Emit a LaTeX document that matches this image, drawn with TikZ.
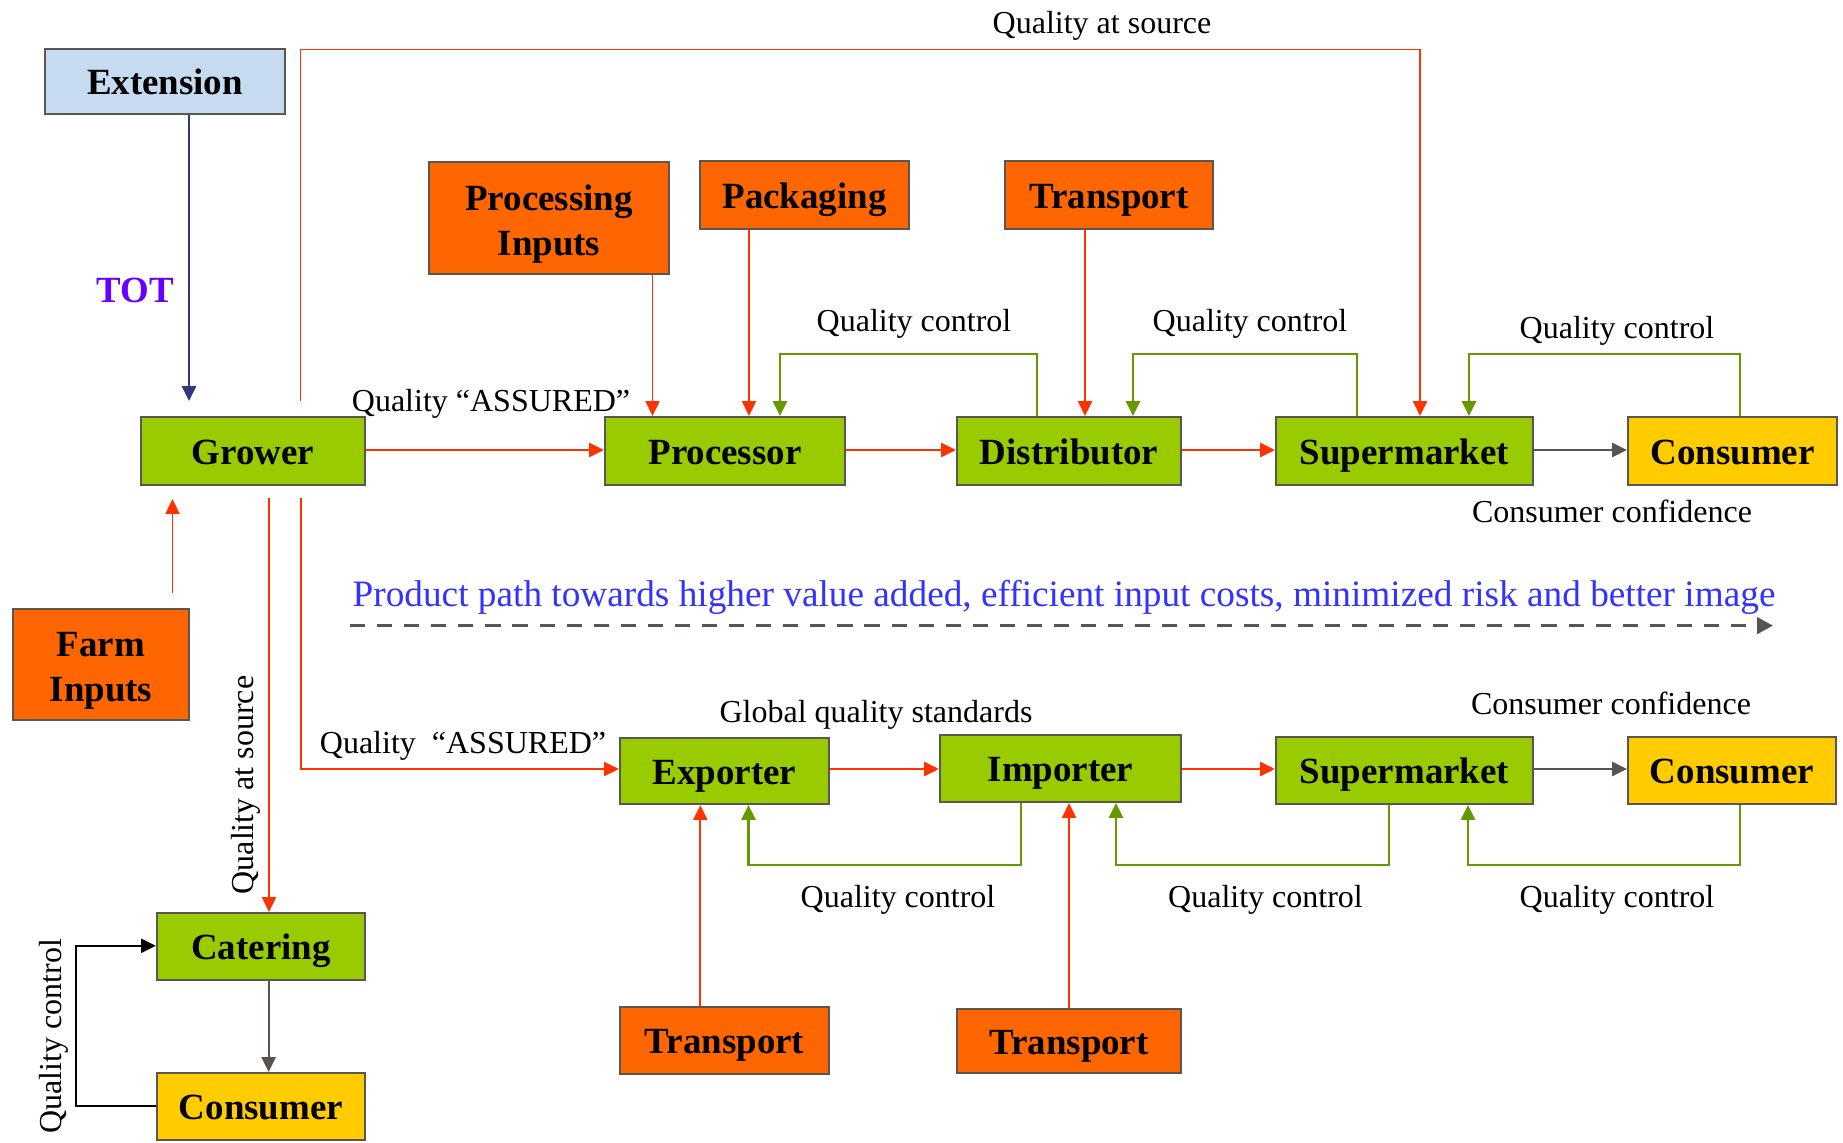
\documentclass[tikz,border=0pt]{standalone}
\usepackage{fontspec}
\setmainfont{Liberation Serif}
\usetikzlibrary{arrows.meta}
\definecolor{boxgreen}{HTML}{99CC00}
\definecolor{boxorange}{HTML}{FF6600}
\definecolor{boxyellow}{HTML}{FFCC00}
\definecolor{boxblue}{HTML}{C6DBEF}
\definecolor{boxborder}{HTML}{5A5652}
\definecolor{arrred}{HTML}{FF3300}
\definecolor{arrgreen}{HTML}{669900}
\definecolor{arrgray}{HTML}{5A5450}
\definecolor{arrnavy}{HTML}{2E3A7C}
\definecolor{totpurple}{HTML}{6600FF}
\definecolor{pathblue}{HTML}{3333FF}
\tikzset{
  box/.style={draw=boxborder, line width=0.6pt, inner sep=0pt, align=center,
    font=\bfseries\fontsize{10.5}{12.8}\selectfont},
  onebox/.style={text height=0.9em, text depth=0.14em},
  sz/.style 2 args={minimum width=#1cm, minimum height=#2cm},
  gbox/.style={box, onebox, fill=boxgreen},
  obox/.style={box, onebox, fill=boxorange},
  o2box/.style={box, fill=boxorange},
  ybox/.style={box, onebox, fill=boxyellow},
  bbox/.style={box, onebox, fill=boxblue},
  lbl/.style={inner sep=0pt, font=\fontsize{9.1}{11}\selectfont},
  tipa/.style={-{Triangle[length=4.2pt,width=4pt]}},
  redln/.style={draw=arrred, line width=0.5pt, tipa},
  redmain/.style={draw=arrred, line width=0.75pt, tipa},
  greenln/.style={draw=arrgreen, line width=0.6pt, tipa},
  grayln/.style={draw=arrgray, line width=0.7pt, tipa},
  navyln/.style={draw=arrnavy, line width=0.6pt, tipa},
  blackln/.style={draw=black, line width=0.6pt, tipa},
}
\begin{document}
\begin{tikzpicture}[x=0.01cm, y=-0.01cm]
\useasboundingbox (0,0) rectangle (1843,1143);

% nodes
\node[bbox, sz={2.40}{0.65}] (ext) at (165,81.5) {Extension};
\node[gbox, sz={2.24}{0.68}] (grower) at (253,451) {Grower};
\node[o2box, sz={2.40}{1.12}] (procin) at (549,218) {\rule{0pt}{1em}Processing\\Inputs};
\node[obox, sz={2.09}{0.68}] (pack) at (804.5,195) {Packaging};
\node[obox, sz={2.08}{0.68}] (trtop) at (1109,195) {Transport};
\node[gbox, sz={2.40}{0.68}] (proc) at (725,451) {Processor};
\node[gbox, sz={2.24}{0.68}] (dist) at (1069,451) {Distributor};
\node[gbox, sz={2.57}{0.68}] (smA) at (1404.5,451) {Supermarket};
\node[ybox, sz={2.09}{0.68}] (conA) at (1732.5,451) {Consumer};
\node[o2box, sz={1.76}{1.11}] (farm) at (101,664.5) {\rule{0pt}{1em}Farm\\Inputs};
\node[gbox, sz={2.09}{0.66}] (exp) at (724.5,771) {Exporter};
\node[gbox, sz={2.41}{0.67}] (imp) at (1060.5,768.5) {Importer};
\node[gbox, sz={2.57}{0.67}] (smB) at (1404.5,770.5) {Supermarket};
\node[ybox, sz={2.08}{0.67}] (conB) at (1732,770.5) {Consumer};
\node[obox, sz={2.09}{0.67}] (trB) at (724.5,1040.5) {Transport};
\node[obox, sz={2.24}{0.64}] (trC) at (1069,1041) {Transport};
\node[gbox, sz={2.08}{0.67}] (cat) at (261,946.5) {Catering};
\node[ybox, sz={2.08}{0.67}] (conC) at (261,1106.5) {Consumer};

% labels
\node[inner sep=0pt, text=totpurple, font=\bfseries\fontsize{10.5}{12.8}\selectfont] (tot) at (135,290) {TOT};
\node[lbl] (lqs) at (1102,25.5) {Quality at source};
\node[lbl] (lqa1) at (491,403.5) {Quality “ASSURED”};
\node[lbl] (lqc1) at (914,323.5) {Quality control};
\node[lbl] (lqc2) at (1250,323.5) {Quality control};
\node[lbl] (lqc3) at (1617,330.5) {Quality control};
\node[lbl] (lcc1) at (1612,511) {Consumer confidence};
\node[lbl, text=pathblue, font=\fontsize{10.6}{12.5}\selectfont] (lpath) at (1064,597) {Product path towards higher value added, efficient input costs, minimized risk and better image};
\node[lbl, rotate=90] (lqs2) at (245.5,785) {Quality at source};
\node[lbl] (lqa2) at (463,745.5) {Quality\ \ “ASSURED”};
\node[lbl] (lgq) at (876,714.5) {Global quality standards};
\node[lbl] (lcc2) at (1611,703.5) {Consumer confidence};
\node[lbl] (lqc4) at (898,899.5) {Quality control};
\node[lbl] (lqc5) at (1265.5,899.5) {Quality control};
\node[lbl] (lqc6) at (1617,899.5) {Quality control};
\node[lbl, rotate=90] (lqc7) at (53.5,1036) {Quality control};

% dashed path arrow
\coordinate (dashA) at (350,625.6);
\coordinate (dashB) at (1773,625.6);
\draw[draw=arrgray, line width=1pt, dash pattern=on 4.3pt off 3.4pt, -{Triangle[length=4.5pt,width=4.6pt]}] (dashA) -- (dashB);

% top connectors
\draw[navyln, shorten >=0.15cm] (ext.south -| 189,0) -- (grower.north -| 189,0);
\coordinate (qscorner) at (1420,49.5);
\draw[redln, shorten <=0.15cm] (grower.north -| 300.5,0) |- (qscorner) -- (smA.north -| qscorner);
\draw[redln] (procin.south -| 652.5,0) -- (proc.north -| 652.5,0);
\draw[redln] (pack.south -| 749,0) -- (proc.north -| 749,0);
\draw[redln] (trtop.south -| 1085,0) -- (dist.north -| 1085,0);
\draw[redmain] (grower.east |- 0,450) -- (proc.west |- 0,450);
\draw[redmain] (proc.east |- 0,450) -- (dist.west |- 0,450);
\draw[redmain] (dist.east |- 0,450) -- (smA.west |- 0,450);
\draw[grayln] (smA.east |- 0,450) -- (conA.west |- 0,450);
\draw[greenln] (dist.north -| 1037,0) |- (780,354) -- (proc.north -| 780,0);
\draw[greenln] (smA.north -| 1357,0) |- (1133,354) -- (dist.north -| 1133,0);
\draw[greenln] (conA.north -| 1740,0) |- (1469,354) -- (smA.north -| 1469,0);

% left connectors
\draw[redln, shorten <=0.15cm, shorten >=0.13cm] (farm.north -| 172.5,0) -- (grower.south -| 172.5,0);
\draw[redln, shorten <=0.12cm] (grower.south -| 269,0) -- (cat.north -| 269,0);
\draw[redln, shorten <=0.12cm] (grower.south -| 301,0) |- (exp.west |- 0,769);
\draw[grayln, line width=0.6pt] (cat.south -| 268.6,0) -- (conC.north -| 268.6,0);
\draw[blackln] (conC.west |- 0,1105.7) -| (76.3,945.8) -- (cat.west |- 0,945.8);

% bottom connectors
\draw[redmain] (exp.east |- 0,769) -- (imp.west |- 0,769);
\draw[redmain] (imp.east |- 0,769) -- (smB.west |- 0,769);
\draw[grayln] (smB.east |- 0,769) -- (conB.west |- 0,769);
\draw[redln] (trB.north -| 700.3,0) -- (exp.south -| 700.3,0);
\draw[redln] (trC.north -| 1069,0) -- (imp.south -| 1069,0);
\draw[greenln] (imp.south -| 1021.4,0) |- (748.5,865.3) -- (exp.south -| 748.5,0);
\draw[greenln] (smB.south -| 1388.6,0) |- (1116,865.3) -- (imp.south -| 1116,0);
\draw[greenln] (conB.south -| 1740,0) |- (1468,865.3) -- (smB.south -| 1468,0);
\end{tikzpicture}
\end{document}
